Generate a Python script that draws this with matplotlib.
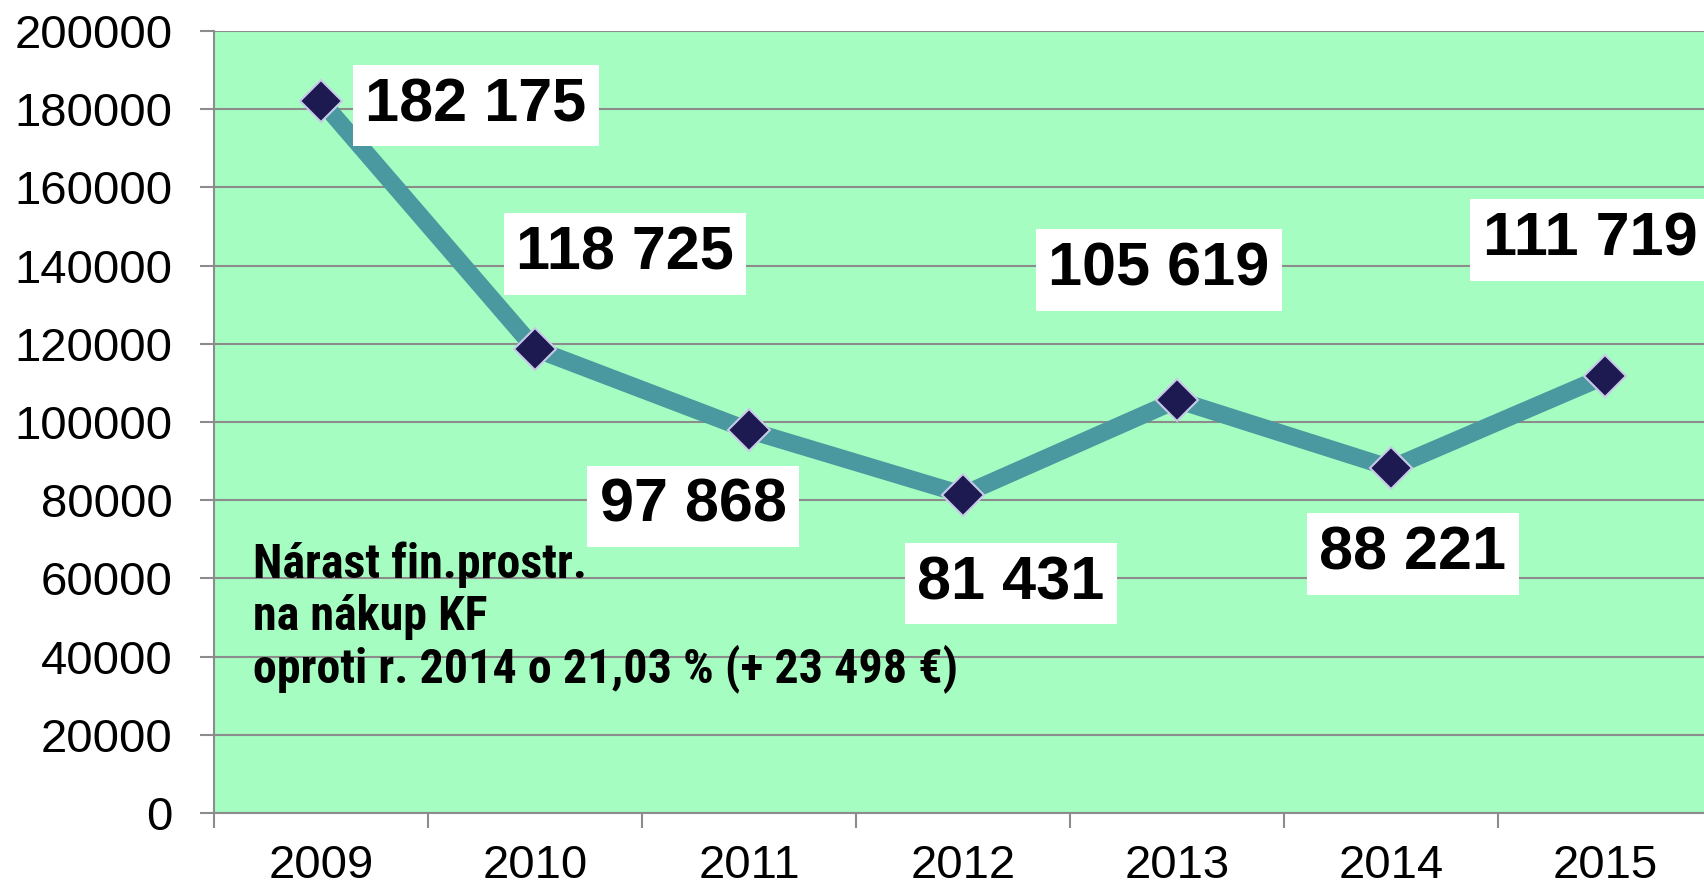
import matplotlib
matplotlib.use("Agg")
import matplotlib.pyplot as plt
from matplotlib import font_manager

plt.rcParams["font.family"] = ["Liberation Sans", "DejaVu Sans"]

# data
years = ["2009", "2010", "2011", "2012", "2013", "2014", "2015"]
values = [182175, 118725, 97868, 81431, 105619, 88221, 111719]
y_ticks = [0, 20000, 40000, 60000, 80000, 100000, 120000, 140000, 160000, 180000, 200000]
note_lines = ["Nárast fin.prostr.", "na nákup KF", "oproti r. 2014 o 21,03 % (+ 23 498 €)"]

# label offsets from the point, in pixels (x right, y up)
label_offsets = [(155, -5), (90, 95), (-56, -76), (48, -89), (-18, 130), (22, -86), (-15, 136)]

bg = "#a6fdc1"
grid_c = "#8c8c8c"
line_c = "#4a98a0"
mark_c = "#1c1a50"

fig = plt.figure(figsize=(17.04, 8.92), dpi=100)
ax = fig.add_axes([214 / 1704, 1 - 813 / 892, 1498 / 1704, 782 / 892])
ax.set_facecolor(bg)

x = list(range(len(years)))
ax.plot(x, values, color=line_c, linewidth=12.5, solid_joinstyle="miter", zorder=3,
        marker="D", markersize=21, markerfacecolor=mark_c, markeredgecolor="#c8cae8",
        markeredgewidth=1.5)

for xi, v, off in zip(x, values, label_offsets):
    ax.annotate(f"{v:,}".replace(",", " "), (xi, v), xytext=off, textcoords="offset pixels",
                ha="center", va="center", fontsize=44, fontweight="bold", color="black",
                bbox=dict(boxstyle="square,pad=0.2", facecolor="white", edgecolor="none"),
                zorder=5, annotation_clip=False)

ax.set_xlim(-0.5, len(years) - 0.5)
ax.set_ylim(0, 200000)
ax.set_yticks(y_ticks)
ax.set_yticklabels([str(t) for t in y_ticks])
ax.set_xticks(x)
ax.set_xticklabels(years)
ax.set_xticks([i - 0.5 for i in range(len(years) + 1)], minor=True)

ax.tick_params(axis="y", labelsize=34, length=10, width=1.5, color=grid_c, pad=20)
ax.tick_params(axis="x", which="major", labelsize=34, length=0, pad=22)
ax.tick_params(axis="x", which="minor", length=11, width=1.5, color=grid_c)

ax.yaxis.grid(True, color=grid_c, linewidth=1.5)
ax.set_axisbelow(True)
for s in ["top", "right"]:
    ax.spines[s].set_visible(False)
for s in ["left", "bottom"]:
    ax.spines[s].set_color(grid_c)
    ax.spines[s].set_linewidth(1.5)

# narrow bold font for the note if one is installed
note_font = "Liberation Sans"
for name in ["Liberation Sans Narrow", "Roboto Condensed", "Open Sans Condensed", "DejaVu Sans Condensed"]:
    try:
        font_manager.findfont(font_manager.FontProperties(family=name, weight="bold"),
                              fallback_to_default=False)
        note_font = name
        break
    except ValueError:
        pass

# note, one text per line
texts = []
for i, line in enumerate(note_lines):
    t = ax.text(0.026, 0.317 - i * 0.066, line, transform=ax.transAxes, ha="left", va="center",
                fontsize=30, fontweight="bold", family=[note_font, "DejaVu Sans"], zorder=4)
    texts.append(t)
fig.canvas.draw()
w = texts[-1].get_window_extent().width
for t in texts:
    t.set_fontsize(30 * 705 / w)

fig.savefig("out.png", dpi=100)
